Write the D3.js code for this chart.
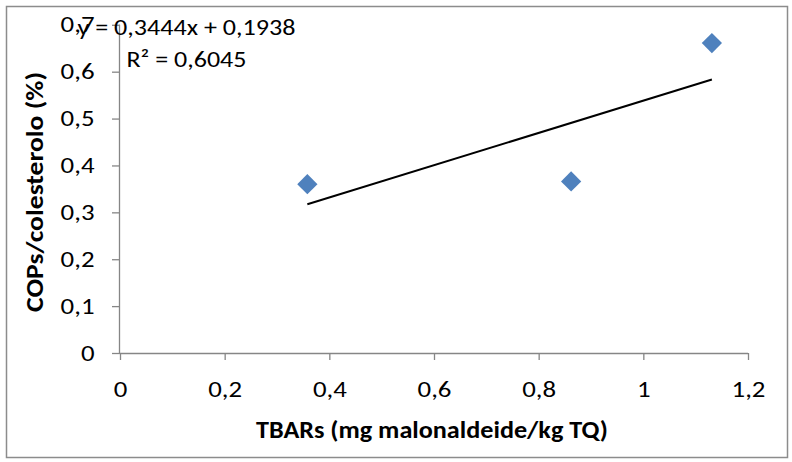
<!DOCTYPE html>
<html>
<head>
<meta charset="utf-8">
<script src="https://cdn.jsdelivr.net/npm/d3@7"></script>
<style>
  html, body { margin: 0; padding: 0; background: #fff; }
  svg { display: block; font-family: Carlito, Calibri, Lato, sans-serif; }
</style>
</head>
<body>
<svg id="chart" width="792" height="462"></svg>
<script>
// TBARs vs COPs/colesterolo observations
const tbars = [0.358, 0.862, 1.131];
const cops = [0.360, 0.366, 0.661];

// linear trendline coefficients and fit quality
const slope = 0.3444;
const intercept = 0.1938;
const rSquared = 0.6045;

const xTicks = [0, 0.2, 0.4, 0.6, 0.8, 1, 1.2];
const yTicks = [0, 0.1, 0.2, 0.3, 0.4, 0.5, 0.6, 0.7];

const xTitle = "TBARs (mg malonaldeide/kg TQ)";
const yTitle = "COPs/colesterolo (%)";

const fmt = v => String(v).replace(".", ",");

const svg = d3.select("#chart");
const plot = { left: 120, right: 748, top: 24.8, bottom: 353 };

const x = d3.scaleLinear().domain([0, 1.2]).range([plot.left, plot.right]);
const y = d3.scaleLinear().domain([0, 0.7]).range([plot.bottom, plot.top]);

const axisColor = "#868686";
const fontStack = "Carlito, Calibri, Lato, sans-serif";

// widen glyph runs a little so tick numerals read broad
function widen(sel, k) {
  sel.each(function () {
    const w = this.getComputedTextLength();
    d3.select(this).attr("textLength", w * k).attr("lengthAdjust", "spacingAndGlyphs");
  });
}

// outer chart frame
svg.append("rect")
  .attr("x", 6.5).attr("y", 6.5)
  .attr("width", 781).attr("height", 451)
  .attr("fill", "#fff")
  .attr("stroke", "#8c8c8c")
  .attr("stroke-width", 1.5);

// x axis
const xAxis = svg.append("g")
  .attr("transform", `translate(0,${plot.bottom})`)
  .call(d3.axisBottom(x).tickValues(xTicks).tickSize(7).tickFormat(fmt));
xAxis.selectAll(".tick text").attr("y", 44).attr("dy", 0);

// y axis
const yAxis = svg.append("g")
  .attr("transform", `translate(${plot.left},0)`)
  .call(d3.axisLeft(y).tickValues(yTicks).tickSize(8).tickPadding(17.5).tickFormat(fmt));

[xAxis, yAxis].forEach(g => {
  g.select(".domain").attr("stroke", axisColor).attr("stroke-width", 1.3);
  g.selectAll(".tick line").attr("stroke", axisColor).attr("stroke-width", 1.3);
  g.selectAll(".tick text")
    .attr("fill", "#000")
    .style("font-size", "22px")
    .style("font-family", fontStack);
  widen(g.selectAll(".tick text"), 1.22);
});
xAxis.select(".domain").attr("d", `M${plot.left},0.5H${plot.right}`);
yAxis.select(".domain").attr("d", `M-0.5,${plot.bottom}V${plot.top}`);

// trendline across the observed TBARs range
const xr = d3.extent(tbars);
svg.append("line")
  .attr("x1", x(xr[0])).attr("y1", y(slope * xr[0] + intercept))
  .attr("x2", x(xr[1])).attr("y2", y(slope * xr[1] + intercept))
  .attr("stroke", "#000")
  .attr("stroke-width", 2);

// diamond markers
const diamond = d3.symbol().type(d3.symbolSquare).size(205);
svg.append("g").selectAll("path")
  .data(tbars.map((v, i) => [v, cops[i]]))
  .join("path")
  .attr("d", diamond)
  .attr("transform", d => `translate(${x(d[0])},${y(d[1])}) rotate(45)`)
  .attr("fill", "#4F81BD");

// regression label
const eqX = 186.5;
const eq = svg.append("text")
  .attr("text-anchor", "middle")
  .style("font-size", "23px").attr("fill", "#000");
eq.append("tspan").attr("x", eqX).attr("y", 35)
  .attr("textLength", 218).attr("lengthAdjust", "spacingAndGlyphs")
  .text(`y = ${fmt(slope)}x + ${fmt(intercept)}`);
eq.append("tspan").attr("x", eqX).attr("y", 66.5)
  .attr("textLength", 120).attr("lengthAdjust", "spacingAndGlyphs")
  .text(`R² = ${fmt(rSquared)}`);

// axis titles
svg.append("text")
  .attr("x", 432).attr("y", 437.5)
  .attr("text-anchor", "middle")
  .attr("textLength", 352).attr("lengthAdjust", "spacingAndGlyphs")
  .style("font-size", "25px").style("font-weight", "bold")
  .text(xTitle);

svg.append("text")
  .attr("transform", `translate(43,192) rotate(-90)`)
  .attr("text-anchor", "middle")
  .attr("textLength", 240).attr("lengthAdjust", "spacingAndGlyphs")
  .style("font-size", "25px").style("font-weight", "bold")
  .text(yTitle);
</script>
</body>
</html>
